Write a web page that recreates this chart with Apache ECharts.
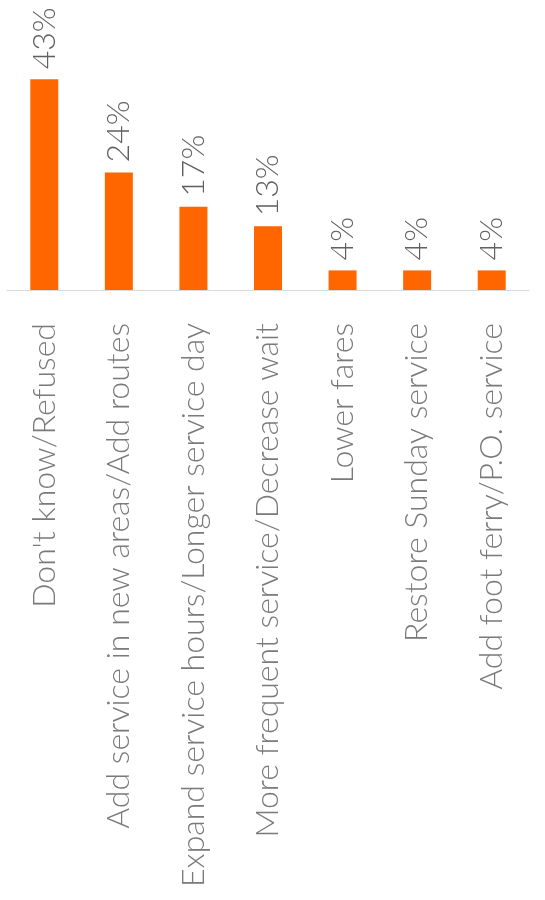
<!DOCTYPE html>
<html>
<head>
<meta charset="utf-8">
<script src="https://cdn.jsdelivr.net/npm/echarts@6/dist/echarts.min.js"></script>
<style>
  html, body { margin: 0; padding: 0; background: #fff; }
  #chart { width: 545px; height: 900px; }
</style>
</head>
<body>
<div id="chart"></div>
<script>
// Suggested improvements, share of respondents (%)
const categories = [
  "Don't know/Refused",
  "Add service in new areas/Add routes",
  "Expand service hours/Longer service day",
  "More frequent service/Decrease wait",
  "Lower fares",
  "Restore Sunday service",
  "Add foot ferry/P.O. service"
];
const shares = [43, 24, 17, 13, 4, 4, 4];

const FONT = 'Lato';
const chart = echarts.init(document.getElementById('chart'), null, { renderer: 'canvas' });

chart.setOption({
  animation: false,
  backgroundColor: '#ffffff',
  grid: { left: 7, width: 522, top: 45, height: 245 },
  xAxis: {
    type: 'category',
    data: categories,
    axisLine: { show: true, lineStyle: { color: '#d9d9d9', width: 1 } },
    axisTick: { show: false },
    axisLabel: {
      interval: 0,
      rotate: 90,
      margin: 33,
      color: '#7a7a7a',
      fontFamily: FONT,
      fontWeight: 300,
      fontSize: 32
    }
  },
  yAxis: {
    type: 'value',
    min: 0,
    max: 50,
    show: false,
    splitLine: { show: false }
  },
  series: [{
    type: 'bar',
    data: shares,
    barWidth: 28,
    itemStyle: { color: '#ff6600' },
    label: {
      show: true,
      position: 'top',
      rotate: 90,
      align: 'left',
      verticalAlign: 'middle',
      distance: 10,
      formatter: p => p.value + '%',
      color: '#606060',
      fontFamily: FONT,
      fontWeight: 300,
      fontSize: 32
    }
  }]
});
</script>
</body>
</html>
